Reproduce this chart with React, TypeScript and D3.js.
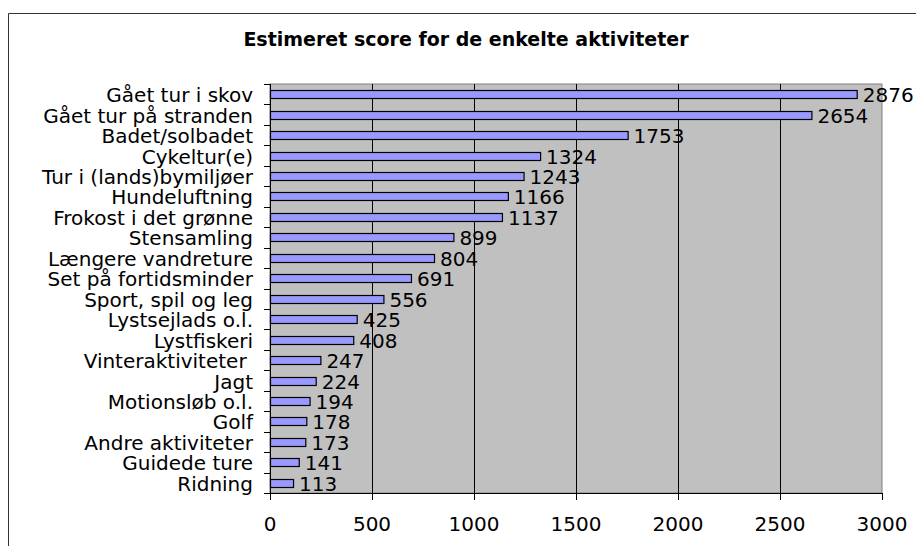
import React from 'react';
import * as d3 from 'd3';

const title = 'Estimeret score for de enkelte aktiviteter';

const activities = [
  'Gået tur i skov',
  'Gået tur på stranden',
  'Badet/solbadet',
  'Cykeltur(e)',
  'Tur i (lands)bymiljøer',
  'Hundeluftning',
  'Frokost i det grønne',
  'Stensamling',
  'Længere vandreture',
  'Set på fortidsminder',
  'Sport, spil og leg',
  'Lystsejlads o.l.',
  'Lystfiskeri',
  'Vinteraktiviteter ',
  'Jagt',
  'Motionsløb o.l.',
  'Golf',
  'Andre aktiviteter',
  'Guidede ture',
  'Ridning',
];

const scores = [2876, 2654, 1753, 1324, 1243, 1166, 1137, 899, 804, 691, 556, 425, 408, 247, 224, 194, 178, 173, 141, 113];

const xTicks = [0, 500, 1000, 1500, 2000, 2500, 3000];

const W = 916;
const H = 546;
const plot = { left: 270, right: 882, top: 84, bottom: 493 };
const font = 'DejaVu Sans, Verdana, sans-serif';
const fs = 20;

export default function App() {
  const x = d3.scaleLinear().domain([0, 3000]).range([plot.left, plot.right]);
  const y = d3
    .scaleBand()
    .domain(activities)
    .range([plot.top, plot.bottom])
    .paddingInner(0)
    .paddingOuter(0);
  const band = y.bandwidth();
  const barH = 8;

  return (
    <svg width={W} height={H} style={{ position: 'absolute', left: 0, top: 0 }}>
      <rect x={0} y={0} width={W} height={H} fill="#fff" />
      {/* outer chart border (cropped on right/bottom) */}
      <path d={`M8.5,${H} V13.5 H${W}`} fill="none" stroke="#333" strokeWidth={1} />

      <text x={466} y={46} textAnchor="middle" fontFamily={font} fontWeight="bold" fontSize={19}>
        {title}
      </text>

      <rect x={plot.left} y={plot.top} width={plot.right - plot.left} height={plot.bottom - plot.top}
        fill="#c0c0c0" stroke="#808080" strokeWidth={1} />

      {xTicks.slice(1, -1).map((t) => (
        <line key={t} x1={Math.round(x(t)) + 0.5} x2={Math.round(x(t)) + 0.5} y1={plot.top} y2={plot.bottom}
          stroke="#000" strokeWidth={1} />
      ))}

      {scores.map((v, i) => {
        const cy = (y(activities[i]) as number) + band / 2;
        return (
          <g key={i}>
            <rect x={x(0) + 0.5} y={Math.round(cy - barH / 2) + 0.5} width={x(v) - x(0)} height={barH}
              fill="#9999ff" stroke="#000" strokeWidth={1.2} />
            <text x={x(v) + 6} y={cy + 8} fontFamily={font} fontSize={fs}>
              {v}
            </text>
          </g>
        );
      })}

      {/* category axis */}
      <line x1={plot.left + 0.5} x2={plot.left + 0.5} y1={plot.top} y2={plot.bottom} stroke="#000" />
      {d3.range(activities.length + 1).map((i) => {
        const yy = Math.round(plot.top + i * band) + 0.5;
        return <line key={i} x1={plot.left - 6} x2={plot.left} y1={yy} y2={yy} stroke="#000" />;
      })}
      {activities.map((a) => (
        <text key={a} x={plot.left - 17} y={(y(a) as number) + band / 2 + 8} textAnchor="end"
          fontFamily={font} fontSize={fs} style={{ whiteSpace: 'pre' }}>
          {a}
        </text>
      ))}

      {/* value axis */}
      <line x1={plot.left} x2={plot.right} y1={plot.bottom + 0.5} y2={plot.bottom + 0.5} stroke="#000" />
      {xTicks.map((t) => (
        <g key={t}>
          <line x1={Math.round(x(t)) + 0.5} x2={Math.round(x(t)) + 0.5} y1={plot.bottom} y2={plot.bottom + 7}
            stroke="#000" />
          <text x={x(t)} y={531} textAnchor="middle" fontFamily={font} fontSize={fs}>
            {t}
          </text>
        </g>
      ))}
    </svg>
  );
}
